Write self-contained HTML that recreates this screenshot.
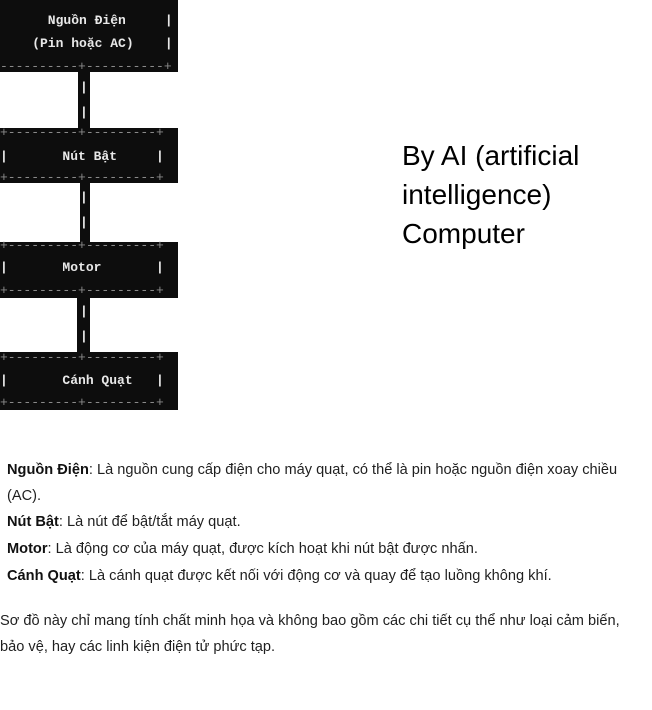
<!DOCTYPE html>
<html><head><meta charset="utf-8"><style>
body{margin:0;width:652px;height:710px;background:#fff;position:relative;overflow:hidden;font-family:"Liberation Sans",sans-serif}
.b{position:absolute;background:#0d0d0d;left:0}
.m{position:absolute;font-family:"Liberation Mono",monospace;font-size:13px;white-space:pre;line-height:16px;color:#e8e8e8;font-weight:bold}
.d{color:#8a8a8a;font-weight:normal}
.t{position:absolute;font-size:14.6px;color:#1f1f1f;white-space:nowrap;line-height:16px}
.t b{font-weight:bold;color:#111}
</style></head><body>
<div class="b" style="top:0;width:178px;height:72px"></div>
<div class="b" style="top:72px;left:78px;width:12px;height:57px"></div>
<div class="b" style="top:128px;width:178px;height:55px"></div>
<div class="b" style="top:183px;left:80px;width:10px;height:60px"></div>
<div class="b" style="top:242px;width:178px;height:56px"></div>
<div class="b" style="top:298px;left:77px;width:13px;height:55px"></div>
<div class="b" style="top:352px;width:178px;height:58px"></div>

<div class="m" style="top:13px;left:1px">      Nguồn Điện     |</div>
<div class="m" style="top:36px;left:1px">    (Pin hoặc AC)    |</div>
<div class="m d" style="top:59px;left:0">----------+----------+</div>
<div class="m" style="top:80px;left:2px">          |</div>
<div class="m" style="top:105px;left:2px">          |</div>

<div class="m d" style="top:125px;left:0">+---------+---------+</div>
<div class="m" style="top:149px;left:0">|       Nút Bật     |</div>
<div class="m d" style="top:170px;left:0">+---------+---------+</div>
<div class="m" style="top:190px;left:2px">          |</div>
<div class="m" style="top:215px;left:2px">          |</div>

<div class="m d" style="top:238px;left:0">+---------+---------+</div>
<div class="m" style="top:260px;left:0">|       Motor       |</div>
<div class="m d" style="top:283px;left:0">+---------+---------+</div>
<div class="m" style="top:304px;left:2px">          |</div>
<div class="m" style="top:329px;left:2px">          |</div>

<div class="m d" style="top:350px;left:0">+---------+---------+</div>
<div class="m" style="top:373px;left:0">|       Cánh Quạt   |</div>
<div class="m d" style="top:395px;left:0">+---------+---------+</div>

<div style="position:absolute;left:402px;top:136px;font-size:28px;line-height:39px;color:#000;font-family:'Liberation Sans',sans-serif">By AI (artificial<br>intelligence)<br>Computer</div>

<div class="t" style="left:7px;top:462px"><b>Nguồn Điện</b>: Là nguồn cung cấp điện cho máy quạt, có thể là pin hoặc nguồn điện xoay chiều</div>
<div class="t" style="left:7px;top:488px">(AC).</div>
<div class="t" style="left:7px;top:514px"><b>Nút Bật</b>: Là nút để bật/tắt máy quạt.</div>
<div class="t" style="left:7px;top:541px"><b>Motor</b>: Là động cơ của máy quạt, được kích hoạt khi nút bật được nhấn.</div>
<div class="t" style="left:7px;top:568px"><b>Cánh Quạt</b>: Là cánh quạt được kết nối với động cơ và quay để tạo luồng không khí.</div>
<div class="t" style="left:0;top:613px">Sơ đồ này chỉ mang tính chất minh họa và không bao gồm các chi tiết cụ thể như loại cảm biến,</div>
<div class="t" style="left:0;top:639px">bảo vệ, hay các linh kiện điện tử phức tạp.</div>
</body></html>
